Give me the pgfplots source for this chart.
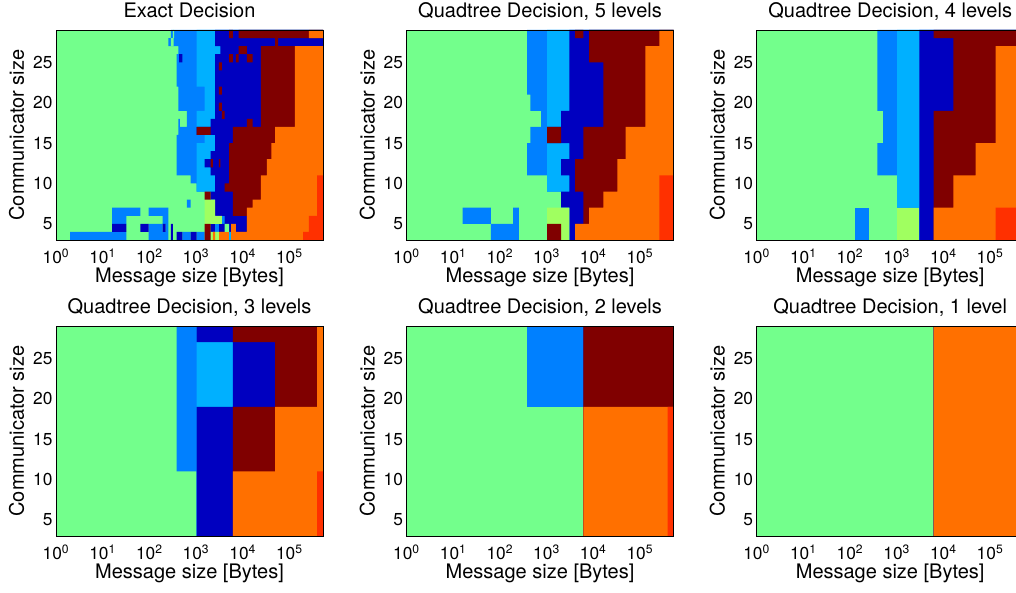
\documentclass[border=0pt]{standalone}
\usepackage{fontspec}
\setmainfont{TeX Gyre Heros}
\usepackage{pgfplots}
\usepackage{pgfplotstable}
\pgfplotsset{compat=1.18}

% jet colours of the decision classes
\definecolor{cgreen}{RGB}{115,255,140}
\definecolor{cblue}{RGB}{0,128,255}
\definecolor{ccyan}{RGB}{0,176,255}
\definecolor{cdblue}{RGB}{0,0,192}
\definecolor{cdred}{RGB}{128,0,0}
\definecolor{corange}{RGB}{255,112,0}
\definecolor{cred}{RGB}{255,48,0}
\definecolor{cygreen}{RGB}{160,255,96}

% left edge (message size) where each class starts, per row band of communicator sizes
\pgfplotstableread{
v  blue   cyan   dblue  dred   orange red
3  3072   3072   3072   3072   3072   196608
4  2048   2048   2048   12288  12288  262144
5  3584   4096   4096   12288  12288  262144
6  2560   2560   2560   6144   12288  393216
7  2560   2560   2560   6144   16384  393216
8  2048   2048   2048   6144   24576  393216
9  1024   1024   2560   4096   24576  393216
10 768    1024   2560   5120   24576  393216
11 384    1024   2048   5120   32768  524288
12 384    1024   1536   5120   32768  524288
13 384    1024   2048   5120   40960  524288
14 384    1024   2560   5120   40960  524288
15 384    1536   2560   6144   49152  524288
16 416    1024   1024   6144   49152  524288
17 640    1024   2048   24576  131072 524288
18 640    1024   2560   24576  131072 524288
19 416    1536   2560   24576  131072 524288
20 416    1536   2560   24576  131072 524288
21 416    1536   2560   24576  131072 524288
22 384    1024   2560   24576  131072 524288
23 384    1024   2560   24576  131072 524288
24 384    1024   2560   24576  131072 524288
25 384    1024   2560   24576  131072 524288
26 416    1024   3328   24576  131072 524288
27 256    1024   2560   524288 524288 524288
28 288    1024   2560   8192   262144 524288
29 288    1024   2560   8192   262144 524288
29 524288 524288 524288 524288 524288 524288
3  524288 524288 524288 524288 524288 524288
}\tabexact

\pgfplotstableread{
v  blue   cyan   dblue  dred   orange red
3  3072   3072   3072   4096   4096   262144
5  3072   3072   3072   6144   8192   262144
7  2048   2048   2048   6144   16384  262144
9  1024   1024   3072   4096   32768  262144
11 384    1024   2048   4096   32768  524288
13 384    1024   3072   6144   49152  524288
15 448    1024   1024   6144   49152  524288
17 768    1024   2048   16384  131072 524288
19 448    1024   3072   16384  131072 524288
21 384    1024   3072   16384  131072 524288
23 384    1024   3072   16384  131072 524288
25 384    1024   3072   8192   131072 524288
27 384    1024   3072   8192   262144 524288
29 384    1024   3072   8192   262144 524288
29 524288 524288 524288 524288 524288 524288
3  524288 524288 524288 524288 524288 524288
}\tabfive

\pgfplotstableread{
v  blue   cyan   dblue  dred   orange red
3  3072   3072   3072   6144   6144   131072
7  1024   1024   3072   6144   16384  524288
11 384    1024   3072   6144   49152  524288
15 512    1024   3072   6144   131072 524288
19 384    1024   3072   16384  131072 524288
27 384    1024   3072   16384  524288 524288
28 384    1024   3072   6144   524288 524288
29 384    1024   3072   6144   524288 524288
29 524288 524288 524288 524288 524288 524288
3  524288 524288 524288 524288 524288 524288
}\tabfour

\pgfplotstableread{
v  blue   cyan   dblue  dred   orange red
3  1024   1024   1024   6144   6144   393216
11 384    1024   1024   6144   49152  524288
19 384    1024   6144   49152  393216 524288
27 384    1024   1024   6144   393216 524288
29 384    1024   1024   6144   393216 524288
29 524288 524288 524288 524288 524288 524288
3  524288 524288 524288 524288 524288 524288
}\tabthree

\pgfplotstableread{
v  blue   cyan   dblue  dred   orange red
3  6144   6144   6144   6144   6144   393216
19 384    6144   6144   6144   524288 524288
29 384    6144   6144   6144   524288 524288
29 524288 524288 524288 524288 524288 524288
3  524288 524288 524288 524288 524288 524288
}\tabtwo

\pgfplotstableread{
v  blue   cyan   dblue  dred   orange red
3  6144   6144   6144   6144   6144   524288
29 6144   6144   6144   6144   6144   524288
29 524288 524288 524288 524288 524288 524288
3  524288 524288 524288 524288 524288 524288
}\tabone

\pgfplotsset{
  dmap/.style={
    scale only axis, width=200.25pt, height=157.5pt, anchor=south west,
    xtick={1,10,100,1000,10000,100000},
    xticklabels={10\textsuperscript{0},10\textsuperscript{1},10\textsuperscript{2},
                 10\textsuperscript{3},10\textsuperscript{4},10\textsuperscript{5}},
    ytick={5,10,15,20,25}, yticklabels={5,10,15,20,25},
    tick style={draw=none},
    tick label style={font=\fontsize{13}{15}\selectfont},
    xticklabel style={anchor=base, inner sep=0pt, yshift=-17.5pt},
    yticklabel style={inner sep=0pt, xshift=-2.5pt},
    axis on top, axis line style={line width=0.6pt},
    xlabel={Message size [Bytes]}, ylabel={Communicator size},
    xlabel style={at={(axis description cs:0.5,-0.2033)}, anchor=base, inner sep=0pt,
                  font=\fontsize{15}{18}\selectfont},
    ylabel style={at={(axis description cs:-0.12,0.5)}, anchor=base, inner sep=0pt,
                  font=\fontsize{15}{18}\selectfont},
    % the default title style shifts up by 6pt; cancel it
    title style={at={(axis description cs:0.5,1.0605)}, anchor=base, yshift=-6pt,
                 inner sep=0pt, font=\fontsize{15}{18}\selectfont},
  },
  lay/.style={fill=#1, draw=none, mark=none, const plot mark right},
  spk/.style={fill=#1, draw=none, mark=none, unbounded coords=jump},
}

% each class covers everything right of its edge, later classes paint over earlier ones
\newcommand{\drawmap}[1]{%
  \addplot[fill=cgreen, draw=none, mark=none] coordinates {(1,3) (524288,3) (524288,29) (1,29)} -- cycle;
  \addplot[lay=cblue] table[x=blue, y=v] {#1} -- cycle;
  \addplot[lay=ccyan] table[x=cyan, y=v] {#1} -- cycle;
  \addplot[lay=cdblue] table[x=dblue, y=v] {#1} -- cycle;
  \addplot[lay=cdred] table[x=dred, y=v] {#1} -- cycle;
  \addplot[lay=corange] table[x=orange, y=v] {#1} -- cycle;
  \addplot[lay=cred] table[x=red, y=v] {#1} -- cycle;
}

\begin{document}
\begin{tikzpicture}
\useasboundingbox (0,0) rectangle (762pt,444pt);
\clip (0,0) rectangle (762pt,444pt);

\begin{axis}[xmode=log, xmin=1, xmax=524288, ymin=3, ymax=29, dmap,
  at={(42pt,264pt)}, title={Exact Decision}]
\drawmap{\tabexact}
\addplot[spk=cblue] coordinates {
  (2,3) (32,3) (32,4) (2,4) (1,nan)
  (96,3) (256,3) (256,4) (96,4) (1,nan)
  (512,3) (768,3) (768,4) (512,4) (1,nan)
  (1024,3) (1536,3) (1536,4) (1024,4) (1,nan)
  (96,4) (192,4) (192,5) (96,5) (1,nan)
  (224,4) (256,4) (256,5) (224,5) (1,nan)
  (2560,4) (3072,4) (3072,5) (2560,5) (1,nan)
  (16,5) (32,5) (32,6) (16,6) (1,nan)
  (192,5) (256,5) (256,6) (192,6) (1,nan)
  (16,6) (64,6) (64,7) (16,7) (1,nan)
  (96,6) (256,6) (256,7) (96,7) (1,nan)
  (640,7) (768,7) (768,8) (640,8) (1,nan)
  (416,17) (448,17) (448,18) (416,18)};
\addplot[spk=cdblue] coordinates {
  (16,4) (32,4) (32,5) (16,5) (1,nan)
  (64,4) (96,4) (96,5) (64,5) (1,nan)
  (192,4) (224,4) (224,5) (192,5) (1,nan)
  (288,3) (320,3) (320,5) (288,5) (1,nan)
  (384,3) (512,3) (512,4) (384,4) (1,nan)
  (768,3) (1024,3) (1024,4) (768,4) (1,nan)
  (432,25) (512,25) (512,26) (432,26)};
\addplot[spk=cgreen] coordinates {
  (4096,4) (5120,4) (5120,5) (4096,5) (1,nan)
  (288,27) (331,27) (331,28) (288,28) (1,nan)
  (320,28) (340,28) (340,29) (320,29)};
\addplot[spk=ccyan] coordinates {(5120,3) (5632,3) (5632,4) (5120,4)};
\addplot[spk=cygreen] coordinates {
  (2048,3) (3072,3) (3072,4) (2048,4) (1,nan)
  (1536,5) (3584,5) (3584,6) (1536,6) (1,nan)
  (1536,6) (2560,6) (2560,8) (1536,8)};
\addplot[spk=corange] coordinates {
  (2304,3) (2560,3) (2560,4) (2304,4) (1,nan)
  (5632,4) (7168,4) (7168,5) (5632,5)};
\addplot[spk=cdred] coordinates {
  (1536,3) (2048,3) (2048,5) (1536,5) (1,nan)
  (1536,8) (2048,8) (2048,9) (1536,9) (1,nan)
  (2048,12) (2304,12) (2304,13) (2048,13) (1,nan)
  (3072,12) (3328,12) (3328,13) (3072,13) (1,nan)
  (1024,16) (2048,16) (2048,17) (1024,17) (1,nan)
  (12288,17) (16384,17) (16384,18) (12288,18) (1,nan)
  (3584,18) (4096,18) (4096,19) (3584,19) (1,nan)
  (3072,19) (3584,19) (3584,20) (3072,20) (1,nan)
  (3072,21) (3584,21) (3584,22) (3072,22) (1,nan)
  (3072,24) (3584,24) (3584,25) (3072,25) (1,nan)
  (5120,25) (6144,25) (6144,26) (5120,26) (1,nan)
  (7168,25) (8192,25) (8192,26) (7168,26) (1,nan)
  (12288,25) (16384,25) (16384,26) (12288,26) (1,nan)
  (8192,26) (12288,26) (12288,27) (8192,27) (1,nan)
  (49152,27) (57344,27) (57344,28) (49152,28) (1,nan)
  (5120,28) (6144,28) (6144,29) (5120,29)};
\end{axis}

\begin{axis}[xmode=log, xmin=1, xmax=524288, ymin=3, ymax=29, dmap,
  at={(304.9pt,264pt)}, title={Quadtree Decision, 5 levels}]
\drawmap{\tabfive}
\addplot[spk=cblue] coordinates {
  (64,3) (256,3) (256,5) (64,5) (1,nan)
  (16,5) (64,5) (64,7) (16,7) (1,nan)
  (192,5) (256,5) (256,7) (192,7)};
\addplot[spk=cygreen] coordinates {
  (2048,3) (3072,3) (3072,5) (2048,5) (1,nan)
  (1024,5) (3072,5) (3072,7) (1024,7)};
\addplot[spk=cdred] coordinates {
  (1024,3) (2048,3) (2048,5) (1024,5) (1,nan)
  (1024,15) (2048,15) (2048,17) (1024,17) (1,nan)
  (4096,28) (6144,28) (6144,29) (4096,29)};
\end{axis}

\begin{axis}[xmode=log, xmin=1, xmax=524288, ymin=3, ymax=29, dmap,
  at={(567.5pt,264pt)}, title={Quadtree Decision, 4 levels}]
\drawmap{\tabfour}
\addplot[spk=cblue] coordinates {(128,3) (256,3) (256,7) (128,7)};
\addplot[spk=cygreen] coordinates {(1024,3) (3072,3) (3072,7) (1024,7)};
\end{axis}

\begin{axis}[xmode=log, xmin=1, xmax=524288, ymin=3, ymax=29, dmap,
  at={(42pt,42pt)}, title={Quadtree Decision, 3 levels}]
\drawmap{\tabthree}
\end{axis}

\begin{axis}[xmode=log, xmin=1, xmax=524288, ymin=3, ymax=29, dmap,
  at={(304.9pt,42pt)}, title={Quadtree Decision, 2 levels}]
\drawmap{\tabtwo}
\end{axis}

\begin{axis}[xmode=log, xmin=1, xmax=524288, ymin=3, ymax=29, dmap,
  at={(567.5pt,42pt)}, title={Quadtree Decision, 1 level}]
\drawmap{\tabone}
\end{axis}
\end{tikzpicture}
\end{document}
